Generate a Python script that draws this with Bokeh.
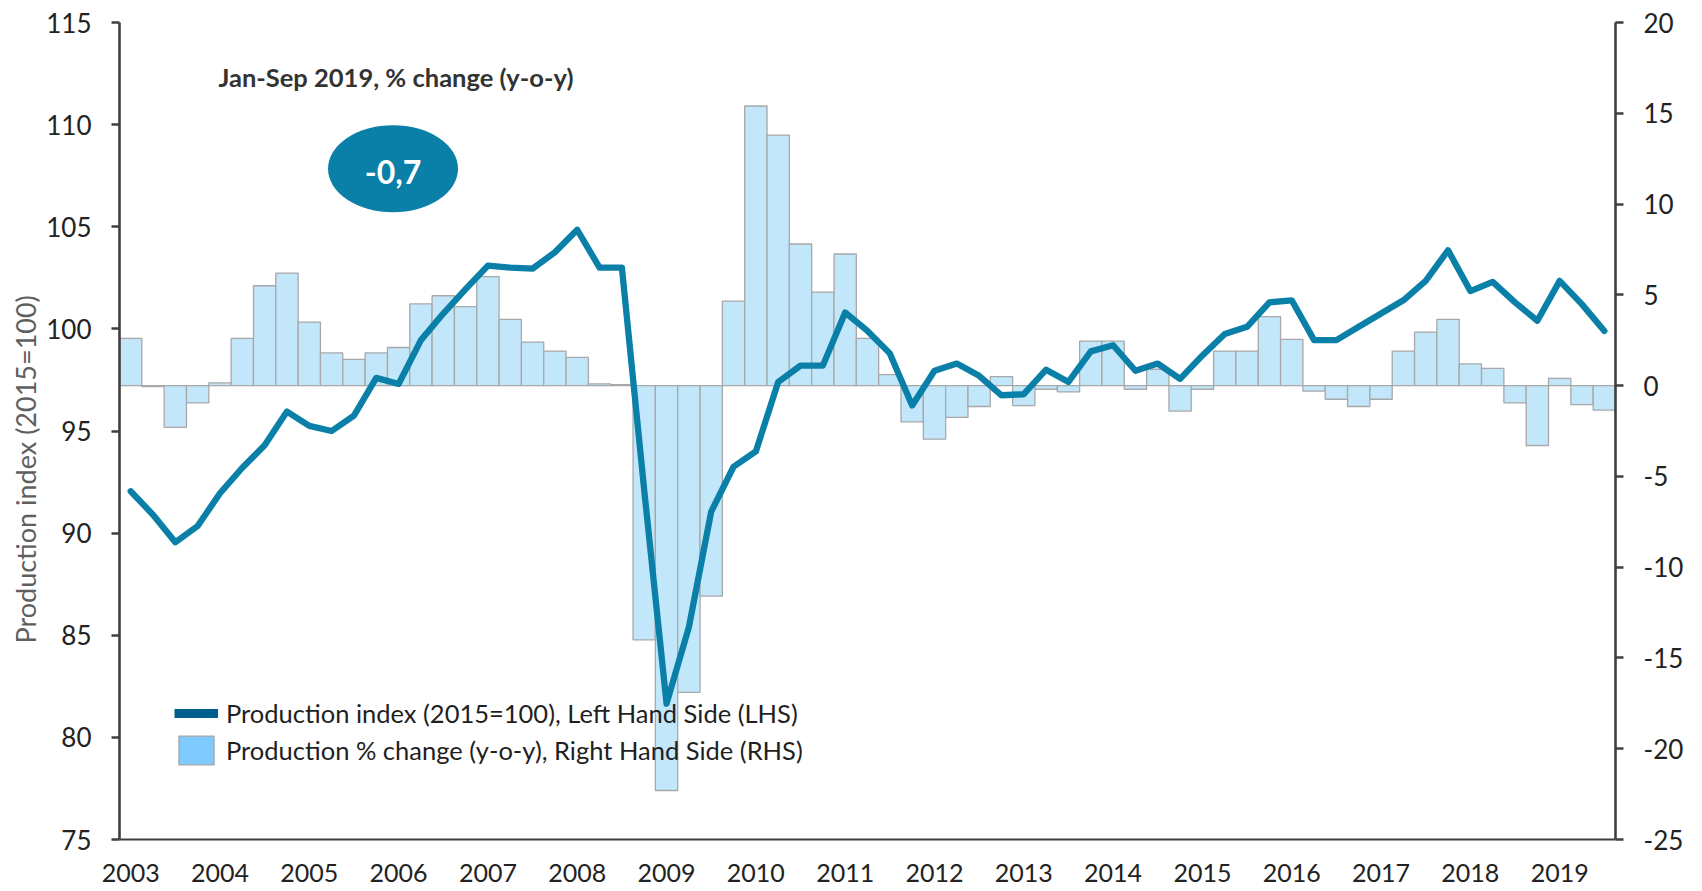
from bokeh.plotting import figure
from bokeh.models import Range1d, LinearAxis, FixedTicker, Label, Legend, LegendItem, Title
from bokeh.embed import file_html
from bokeh.resources import INLINE

# ---------------- data ----------------
years = [str(y) for y in range(2003, 2020)]
quarters = [f"{y}Q{q}" for y in range(2003, 2020) for q in range(1, 5)][:67]

index_values = [
    92.05, 90.9, 89.55, 90.35,      # 2003
    91.95, 93.2, 94.3, 95.95,       # 2004
    95.25, 95.0, 95.75, 97.6,       # 2005
    97.3, 99.45, 100.75, 101.95,    # 2006
    103.1, 103.0, 102.95, 103.75,   # 2007
    104.85, 103.0, 103.0, 92.1,     # 2008
    81.65, 85.4, 91.05, 93.25,      # 2009
    94.0, 97.4, 98.2, 98.2,         # 2010
    100.8, 99.9, 98.8, 96.25,       # 2011
    97.95, 98.3, 97.7, 96.75,       # 2012
    96.8, 98.0, 97.4, 98.9,         # 2013
    99.2, 97.95, 98.3, 97.55,       # 2014
    98.7, 99.75, 100.1, 101.3,      # 2015
    101.4, 99.45, 99.45, 100.1,     # 2016
    100.75, 101.4, 102.35, 103.85,  # 2017
    101.85, 102.3, 101.3, 100.4,    # 2018
    102.35, 101.2, 99.9,            # 2019
]

pct_change = [
    2.6, -0.05, -2.3, -0.95,        # 2003
    0.15, 2.6, 5.5, 6.2,            # 2004
    3.5, 1.8, 1.45, 1.8,            # 2005
    2.1, 4.5, 4.95, 4.35,           # 2006
    6.0, 3.65, 2.4, 1.9,            # 2007
    1.55, 0.1, 0.05, -14.0,         # 2008
    -22.3, -16.9, -11.6, 4.65,      # 2009
    15.4, 13.8, 7.8, 5.15,          # 2010
    7.25, 2.6, 0.6, -2.0,           # 2011
    -2.95, -1.75, -1.15, 0.5,       # 2012
    -1.1, -0.2, -0.35, 2.45,        # 2013
    2.45, -0.2, 0.9, -1.4,          # 2014
    -0.2, 1.9, 1.9, 3.8,            # 2015
    2.55, -0.3, -0.75, -1.15,       # 2016
    -0.75, 1.9, 2.95, 3.65,         # 2017
    1.2, 0.95, -0.95, -3.3,         # 2018
    0.4, -1.05, -1.35,              # 2019
]

left_ticks = [75, 80, 85, 90, 95, 100, 105, 110, 115]
right_ticks = [-25, -20, -15, -10, -5, 0, 5, 10, 15, 20]

summary_title = "Jan-Sep 2019,  % change (y-o-y)"
summary_value = "-0,7"
y_axis_title = "Production  index (2015=100)"
line_label = "Production index (2015=100), Left Hand Side (LHS)"
bar_label = "Production % change (y-o-y), Right Hand Side (RHS)"

# ---------------- style ----------------
FONT = "Lato"
LINE_COLOR = "#0A80A9"
BAR_FILL = "#C3E7FA"
BAR_LINE = "#A8A8A8"
AXIS_COLOR = "#3F3F3F"
TICK_TEXT = "#222222"
NAN = float("nan")

idx = list(range(len(quarters)))

p = figure(
    width=1694, height=891,
    x_range=Range1d(-0.5, len(quarters) - 0.5),
    y_range=Range1d(75, 115),
    output_backend="svg", toolbar_location=None,
    min_border_left=119, min_border_right=79,
    min_border_top=22, min_border_bottom=52,
)
p.extra_y_ranges = {"pct": Range1d(-25, 20)}
p.outline_line_color = None
p.xgrid.grid_line_color = None
p.ygrid.grid_line_color = None
p.background_fill_color = "white"
p.border_fill_color = "white"

# bars (RHS)
bars = p.vbar(x=idx, top=pct_change, bottom=0, width=1.0, y_range_name="pct",
              fill_color=BAR_FILL, line_color=BAR_LINE, line_width=1.3)

# line (LHS)
line = p.line(x=idx, y=index_values, line_color=LINE_COLOR, line_width=6.3,
              line_join="round", line_cap="round")

# axes
yl = p.yaxis[0]
yl.ticker = FixedTicker(ticks=left_ticks)
xa = p.xaxis[0]
xa.ticker = FixedTicker(ticks=[i for i in idx if i % 4 == 0])
xa.major_label_overrides = {i: years[i // 4] for i in idx if i % 4 == 0}

ry = LinearAxis(y_range_name="pct", ticker=FixedTicker(ticks=right_ticks))
ry.major_label_overrides = {t: str(t) for t in right_ticks}
p.add_layout(ry, "right")

for ax in (yl, ry):
    ax.axis_line_color = AXIS_COLOR
    ax.axis_line_width = 2.6
    ax.major_tick_line_color = AXIS_COLOR
    ax.major_tick_line_width = 2.6
    ax.major_tick_out = 8
    ax.major_tick_in = 0
    ax.minor_tick_line_color = None
    ax.major_label_standoff = 20
    ax.major_label_text_font = FONT
    ax.major_label_text_font_size = "26px"
    ax.major_label_text_color = TICK_TEXT

xa.axis_line_color = AXIS_COLOR
xa.axis_line_width = 2.2
xa.major_tick_line_color = None
xa.minor_tick_line_color = None
xa.major_tick_out = 0
xa.major_tick_in = 0
xa.major_label_standoff = 24
xa.major_label_text_font = FONT
xa.major_label_text_font_size = "25px"
xa.major_label_text_color = TICK_TEXT

# y-axis title, in the left panel, shifted down like the original
p.add_layout(Title(text=y_axis_title, align="left", offset=196,
                   vertical_align="middle", standoff=2,
                   text_font=FONT, text_font_size="27px",
                   text_font_style="normal", text_color="#5F5F5F"), "left")

# summary annotation
p.add_layout(Label(x=12.02, y=112.34, text=summary_title,
                   text_align="center", text_baseline="middle",
                   text_font=FONT, text_font_style="bold", text_font_size="25.5px",
                   text_color="#333333"))
p.ellipse(x=[11.75], y=[107.84], width=130, height=87,
          width_units="screen", height_units="screen",
          fill_color=LINE_COLOR, line_color=None)
p.add_layout(Label(x=11.75, y=107.7, text=summary_value,
                   text_align="center", text_baseline="middle",
                   text_font=FONT, text_font_style="bold", text_font_size="32px",
                   text_color="white"))

# legend swatches (styled as in the original; they draw nothing in the plot)
leg_line = p.line(x=[NAN], y=[NAN], line_color="#005E8C", line_width=9)
leg_bar = p.vbar(x=[NAN], top=[NAN], width=1.0, y_range_name="pct",
                 fill_color="#7FCBFF", line_color=BAR_LINE, line_width=1.3)
legend = Legend(
    items=[LegendItem(label=line_label, renderers=[leg_line]),
           LegendItem(label=bar_label, renderers=[leg_bar])],
    location=(55, 71), orientation="vertical",
    padding=0, margin=0, spacing=1,
    glyph_width=44, glyph_height=36, label_height=36, label_standoff=8,
    border_line_color=None, background_fill_alpha=0,
    label_text_font=FONT, label_text_font_size="25.5px", label_text_color="#1F1F1F",
)
p.add_layout(legend)

open("out.html", "w").write(file_html(p, INLINE))
